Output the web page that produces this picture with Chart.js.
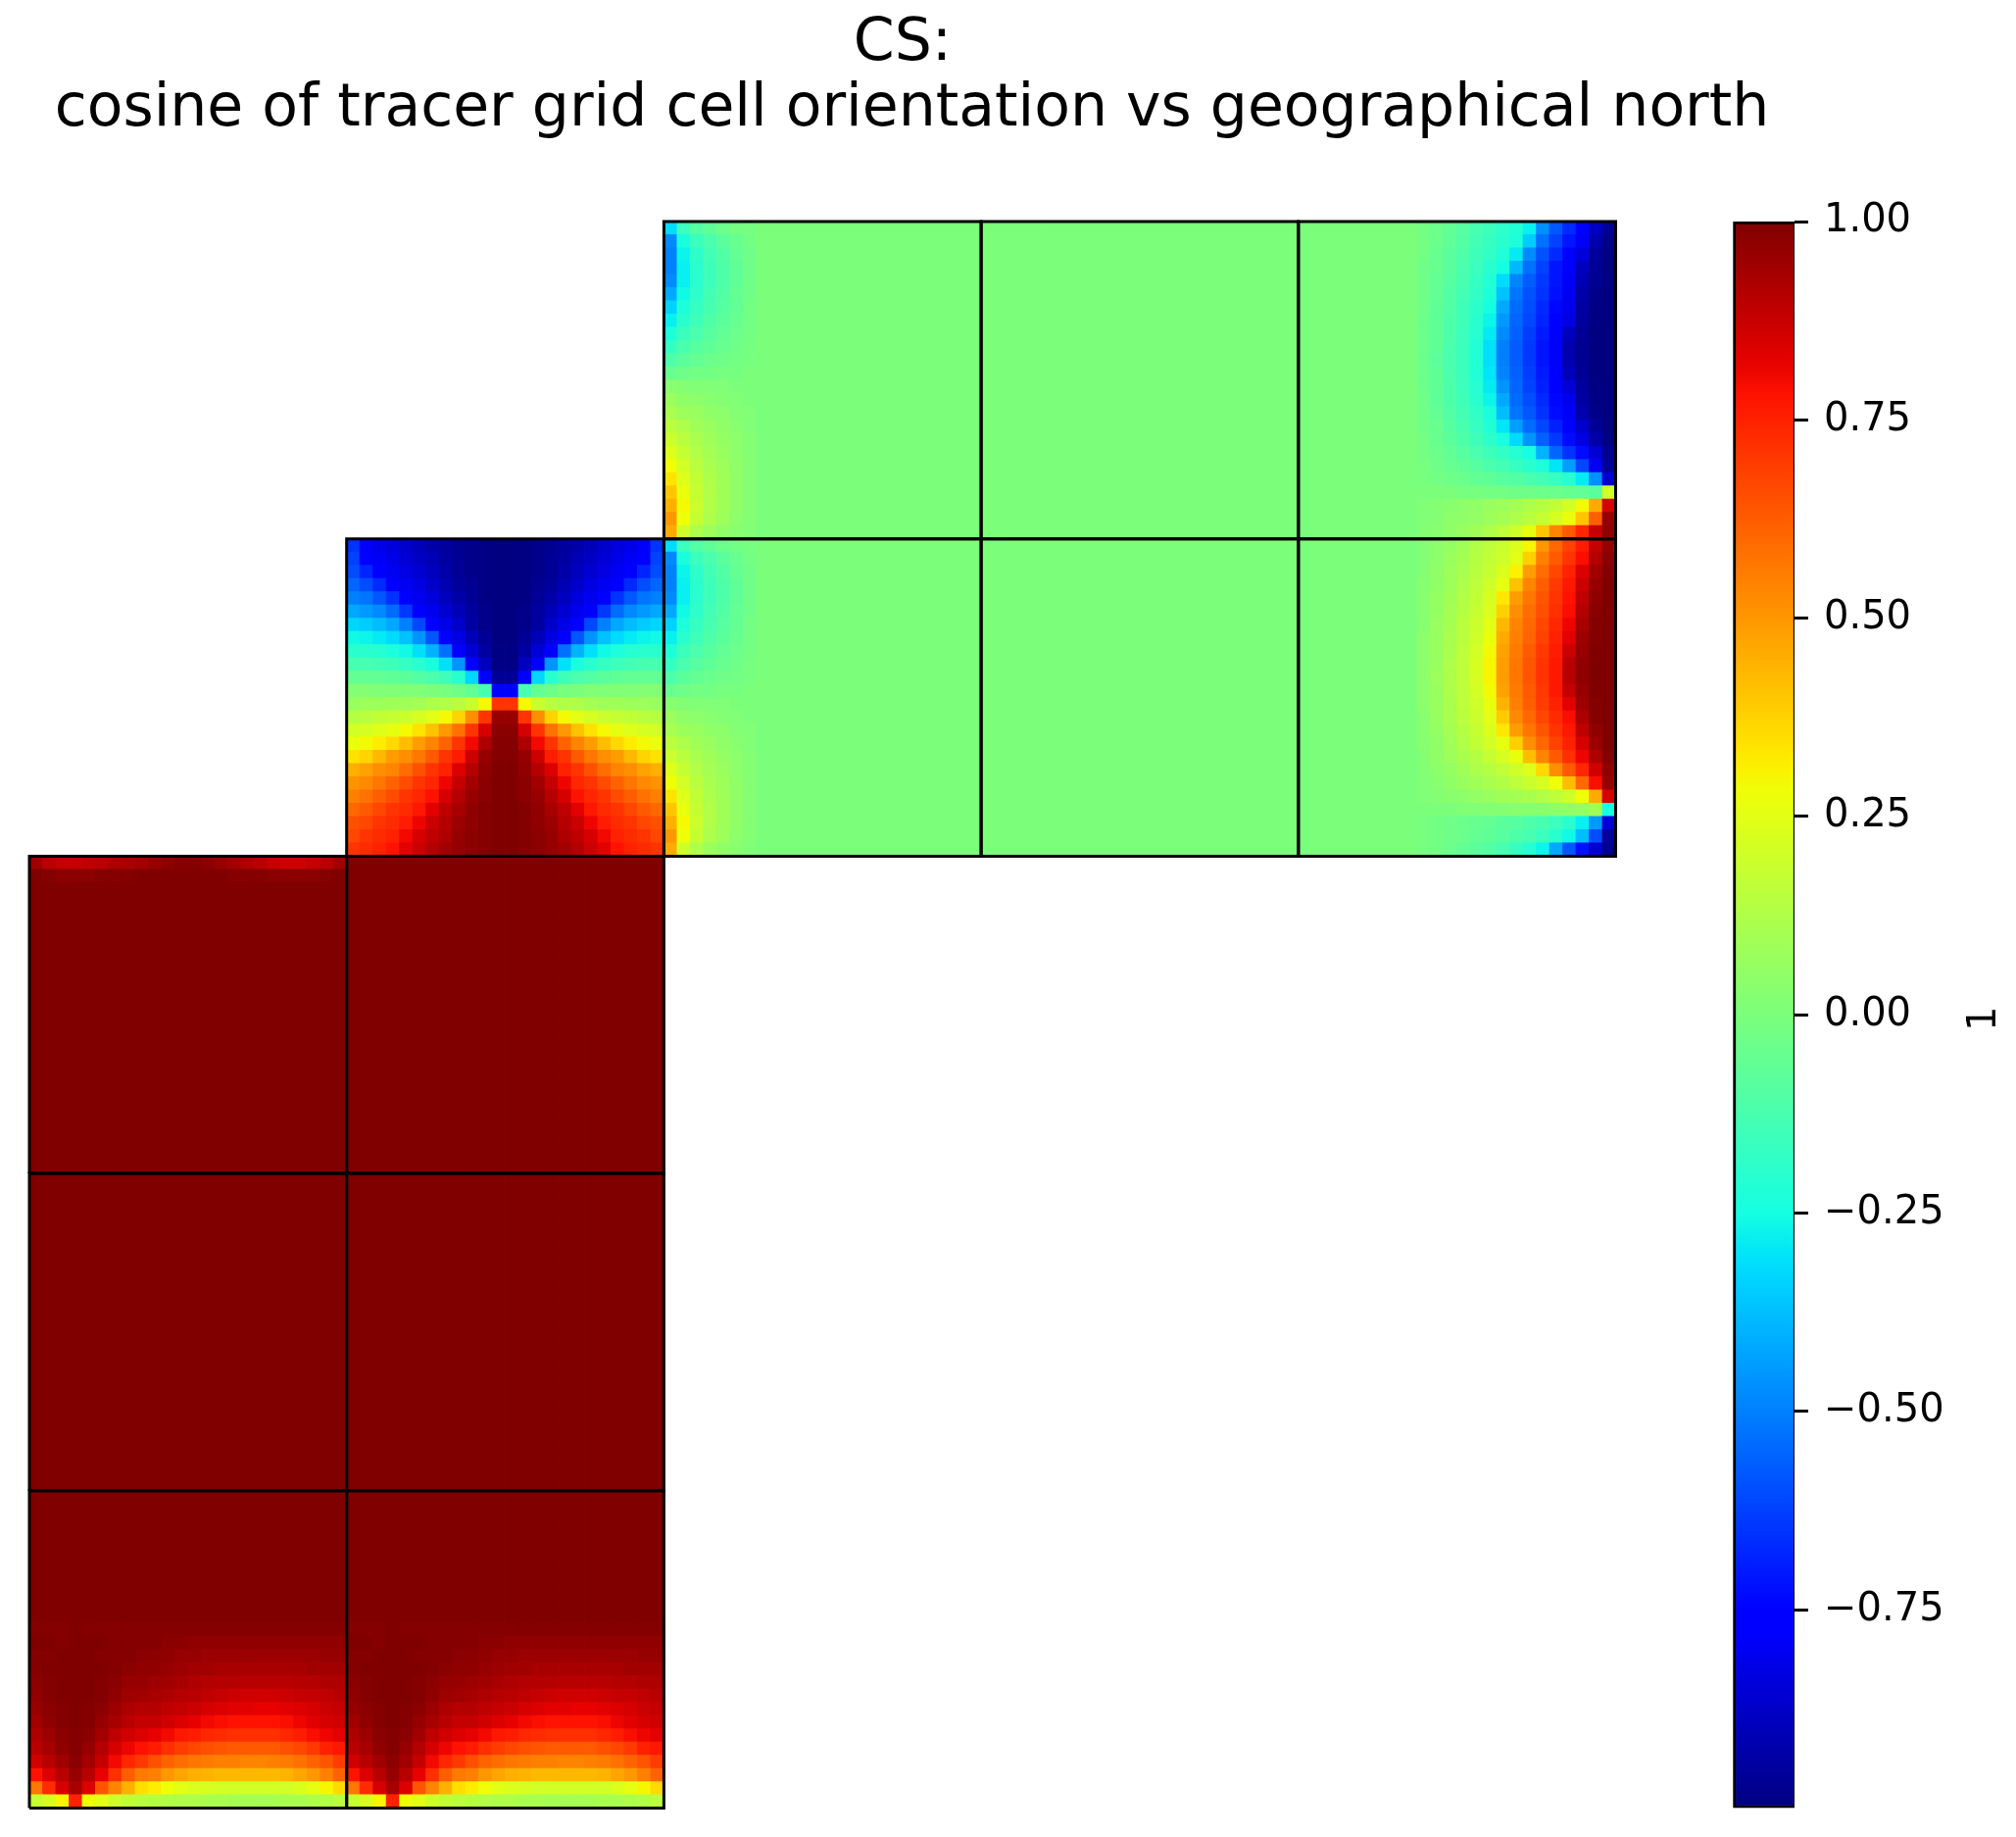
<!DOCTYPE html>
<html>
<head>
<meta charset="utf-8">
<title>CS</title>
<script src="https://cdn.jsdelivr.net/npm/chart.js@4"></script>
<style>
  html, body { margin: 0; padding: 0; background: #fff; }
  canvas { display: block; }
</style>
</head>
<body>
<canvas id="chart" width="2057" height="1874"></canvas>
<script>
const TITLE_LINES = ['CS: ', 'cosine of tracer grid cell orientation vs geographical north'];
const COLORBAR_LABEL = '1';
const CBAR_TICKS = [1, 0.75, 0.5, 0.25, 0, -0.25, -0.5, -0.75];

// each tile is 24 x 24 cells, values are hundredths of the cosine, rows run top to bottom.
// rows can be partial, whatever is missing takes the tile's flat value
const N_CELLS = 24;

const polarTile = [
  [-65,-79,-82,-84,-87,-90,-93,-95,-97,-98,-99,-100,-100,-99,-98,-97,-95,-93,-90,-87,-84,-82,-79,-65],
  [-62,-76,-79,-82,-85,-88,-91,-94,-96,-98,-99,-100,-100,-99,-98,-96,-94,-91,-88,-85,-82,-79,-76,-62],
  [-60,-68,-76,-80,-83,-86,-89,-93,-96,-98,-99,-100,-100,-99,-98,-96,-93,-89,-86,-83,-80,-76,-68,-60],
  [-55,-60,-67,-76,-80,-83,-87,-91,-95,-97,-99,-100,-100,-99,-97,-95,-91,-87,-83,-80,-76,-67,-60,-55],
  [-50,-52,-58,-65,-76,-81,-84,-89,-93,-96,-99,-100,-100,-99,-96,-93,-89,-84,-81,-76,-65,-58,-52,-50],
  [-42,-45,-48,-54,-64,-76,-81,-86,-90,-95,-98,-100,-100,-98,-95,-90,-86,-81,-76,-64,-54,-48,-45,-42],
  [-33,-35,-38,-42,-50,-61,-76,-82,-87,-94,-98,-100,-100,-98,-94,-87,-82,-76,-61,-50,-42,-38,-35,-33],
  [-26,-27,-29,-32,-37,-46,-58,-76,-83,-90,-96,-100,-100,-96,-90,-83,-76,-58,-46,-37,-32,-29,-27,-26],
  [-20,-20,-21,-23,-26,-31,-40,-53,-76,-85,-94,-99,-99,-94,-85,-76,-53,-40,-31,-26,-23,-21,-20,-20],
  [-13,-13,-14,-15,-17,-20,-24,-31,-46,-76,-89,-99,-99,-89,-76,-46,-31,-24,-20,-17,-15,-14,-13,-13],
  [-6,-6,-6,-7,-8,-10,-12,-15,-20,-33,-76,-96,-96,-76,-33,-20,-15,-12,-10,-8,-7,-6,-6,-6],
  [2,2,1,1,1,1,0,-1,-3,-6,-13,-76,-76,-13,-6,-3,-1,0,1,1,1,1,2,2],
  [7,8,8,9,9,10,12,13,15,19,29,71,71,29,19,15,13,12,10,9,9,8,8,7],
  [14,15,17,18,19,22,25,29,37,52,71,96,96,71,52,37,29,25,22,19,18,17,15,14],
  [21,22,24,26,29,34,41,50,58,71,85,98,98,85,71,58,50,41,34,29,26,24,22,21],
  [27,29,32,36,42,49,54,61,71,80,92,99,99,92,80,71,61,54,49,42,36,32,29,27],
  [34,37,43,49,52,57,63,71,76,87,96,99,99,96,87,76,71,63,57,52,49,43,37,34],
  [45,48,52,54,59,65,71,75,84,91,97,100,100,97,91,84,75,71,65,59,54,52,48,45],
  [51,53,57,61,66,71,74,81,88,94,98,100,100,98,94,88,81,74,71,66,61,57,53,51],
  [55,58,62,66,71,74,78,85,91,96,98,100,100,98,96,91,85,78,74,71,66,62,58,55],
  [60,63,67,71,73,77,83,89,93,97,99,100,100,99,97,93,89,83,77,73,71,67,63,60],
  [65,67,71,73,76,81,87,91,95,97,99,100,100,99,97,95,91,87,81,76,73,71,67,65],
  [67,71,73,75,80,85,89,92,96,98,99,100,100,99,98,96,92,89,85,80,75,73,71,67],
  [71,73,75,78,83,87,91,94,96,98,99,100,100,99,98,96,94,91,87,83,78,75,73,71]
];

// right hand tiles: only columns 9 to 23 differ from the flat green
const rightTopTile = [
  [-2,-4,-6,-9,-13,-16,-19,-22,-28,-47,-58,-67,-76,-88,-96],
  [-2,-4,-7,-10,-14,-17,-20,-23,-35,-53,-62,-71,-79,-92,-98],
  [-2,-5,-8,-11,-15,-18,-22,-29,-48,-59,-67,-75,-84,-95,-99],
  [-3,-5,-8,-12,-16,-20,-25,-39,-53,-62,-71,-77,-89,-96,-100],
  [-3,-6,-9,-13,-17,-22,-32,-49,-57,-64,-71,-79,-91,-97,-100],
  [-3,-6,-10,-14,-18,-23,-37,-52,-59,-65,-72,-80,-93,-98,-100],
  [-3,-7,-10,-15,-19,-25,-42,-54,-60,-67,-74,-81,-94,-99,-100],
  [-4,-7,-11,-15,-20,-27,-45,-55,-61,-68,-76,-83,-95,-99,-100],
  [-4,-7,-11,-16,-21,-29,-48,-56,-63,-70,-77,-89,-96,-100,-100],
  [-4,-7,-12,-16,-22,-31,-50,-57,-64,-71,-78,-92,-97,-100,-100],
  [-4,-8,-12,-16,-22,-31,-50,-57,-64,-71,-78,-92,-97,-100,-100],
  [-4,-7,-12,-16,-22,-30,-49,-56,-63,-70,-77,-90,-96,-100,-100],
  [-4,-7,-11,-16,-21,-29,-46,-55,-62,-69,-76,-85,-95,-99,-100],
  [-3,-7,-11,-15,-20,-27,-42,-54,-60,-67,-74,-81,-94,-99,-100],
  [-3,-6,-10,-14,-18,-24,-38,-52,-58,-65,-73,-79,-92,-98,-100],
  [-3,-5,-9,-13,-17,-22,-30,-44,-54,-61,-69,-77,-87,-96,-100],
  [-2,-5,-8,-11,-15,-19,-24,-32,-46,-56,-64,-73,-83,-93,-99],
  [-2,-4,-6,-9,-12,-15,-18,-21,-25,-40,-55,-65,-73,-85,-97],
  [-1,-3,-5,-7,-9,-12,-14,-17,-20,-23,-30,-44,-61,-80,-96],
  [-1,-2,-3,-4,-6,-7,-9,-10,-12,-14,-17,-21,-29,-47,-86],
  [0,0,0,-1,-1,-2,-2,-3,-3,-4,-4,-5,-6,-8,20],
  [1,2,3,4,5,7,8,10,12,14,17,21,29,46,85],
  [1,2,4,5,6,8,10,12,15,18,22,27,40,62,96],
  [2,3,5,7,9,12,16,20,26,40,54,63,74,88,97]
];

const rightMidTile = [
  [2,4,6,9,13,16,19,23,30,50,60,68,76,88,96],
  [2,4,7,10,14,17,20,25,38,55,63,71,79,91,98],
  [2,5,8,11,15,18,23,31,49,59,67,75,84,94,99],
  [3,5,8,12,16,20,26,41,54,62,70,77,87,96,100],
  [3,6,9,13,17,22,33,49,57,64,71,78,89,97,100],
  [3,6,10,14,18,23,38,52,59,65,72,79,91,98,100],
  [3,7,10,15,19,25,43,54,60,67,74,81,93,99,100],
  [4,7,11,15,20,27,46,55,61,68,75,83,95,99,100],
  [4,7,11,16,21,29,48,56,63,70,76,87,96,100,100],
  [4,7,12,16,22,30,49,57,64,71,77,90,97,100,100],
  [4,8,12,16,22,30,49,57,64,71,77,90,97,100,100],
  [4,7,12,16,21,29,48,56,63,70,77,88,96,100,100],
  [4,7,11,16,20,27,44,55,62,69,75,83,95,99,100],
  [3,7,11,15,19,25,39,53,60,67,73,79,92,99,100],
  [3,6,10,14,18,23,33,49,57,64,71,77,89,97,100],
  [3,5,9,13,17,21,26,38,52,60,68,75,85,95,100],
  [2,5,8,11,14,18,22,27,42,54,63,72,81,92,99],
  [2,4,6,9,12,14,17,20,24,36,52,63,74,86,97],
  [1,3,5,7,9,11,13,16,19,22,28,42,60,79,96],
  [1,2,3,4,6,7,9,10,11,13,16,20,28,46,85],
  [0,0,0,1,1,2,2,3,3,3,4,5,6,9,-25],
  [-1,-2,-3,-4,-5,-6,-8,-9,-11,-13,-16,-20,-28,-45,-85],
  [-1,-2,-3,-4,-6,-7,-9,-11,-13,-16,-20,-26,-38,-60,-95],
  [-1,-2,-4,-6,-8,-10,-13,-17,-21,-27,-42,-58,-72,-86,-97]
];

// only columns 0 to 6 differ from the flat green
const leftEdgeTile = [
  [-32,-16,-10,-7,-4,-2,-1],
  [-48,-24,-16,-12,-8,-5,-2],
  [-50,-27,-19,-14,-10,-6,-3],
  [-50,-28,-20,-15,-11,-7,-3],
  [-48,-28,-20,-15,-11,-7,-3],
  [-42,-26,-19,-14,-10,-6,-3],
  [-34,-23,-17,-13,-9,-6,-2],
  [-28,-20,-15,-11,-8,-5,-2],
  [-23,-16,-12,-9,-6,-4,-2],
  [-17,-12,-9,-7,-5,-3,-1],
  [-11,-8,-6,-4,-3,-2,-1],
  [-5,-3,-2,-2,-1,-1,0],
  [3,2,1,1,1,0,0],
  [7,5,4,3,2,1,0],
  [11,8,7,5,4,2,1],
  [15,12,9,7,5,3,1],
  [19,15,11,9,6,4,2],
  [24,18,13,10,7,4,2],
  [28,21,15,11,8,5,2],
  [34,24,17,12,9,5,2],
  [40,27,18,13,9,5,2],
  [45,29,19,13,9,5,2],
  [50,28,18,12,8,4,2],
  [46,20,12,8,5,3,1]
];

// only rows 10 to 23 differ from the flat dark red
const bottomTile = [
  [99,99,99,100,99,99,99,99,99,99,99,99,99,99,99,99,99,99,99,99,99,99,99,99],
  [100,100,99,100,100,100,99,99,99,99,98,98,97,97,97,97,97,97,97,97,97,97,97,97],
  [99,99,100,100,100,99,99,99,98,98,97,96,96,95,95,95,95,95,95,95,95,95,96,96],
  [99,100,100,100,100,100,99,98,97,97,96,95,94,94,93,93,93,93,93,93,93,94,94,94],
  [98,99,100,100,100,99,98,96,96,95,94,93,92,91,91,91,90,90,90,90,91,91,92,92],
  [97,99,100,100,100,99,97,95,94,93,92,91,90,89,88,87,86,86,86,87,88,88,89,90],
  [96,98,99,100,99,98,95,92,91,91,89,88,87,85,84,83,83,82,82,83,84,85,87,88],
  [94,97,99,100,99,96,93,90,88,88,86,84,82,80,79,78,78,78,78,79,81,83,85,86],
  [92,95,98,99,98,94,89,86,84,82,80,77,76,74,73,72,72,72,72,74,76,79,81,83],
  [90,93,97,99,96,91,85,81,78,76,72,69,67,65,64,63,63,63,63,65,67,70,75,77],
  [86,90,94,98,94,88,80,74,70,65,61,59,57,56,55,55,54,54,55,56,58,61,64,69],
  [78,84,90,96,90,82,72,62,56,55,50,47,45,44,43,43,43,43,43,44,47,50,55,61],
  [57,73,85,93,84,64,54,45,35,32,28,25,23,22,21,21,21,21,21,21,23,26,30,36],
  [18,22,30,75,28,25,20,17,15,14,13,12,12,11,11,10,10,10,10,11,11,12,13,15]
];

// faint band along the top of the tile under the polar one
const redTopTile = [
  [95,90,88,88,89,90,92,93,94,96,98,99,99,98,96,94,92,90,88,87,87,88,90,94],
  [100,99,98,98,98,99,99,99,100,100,100,100,100,100,100,99,99,99,98,98,98,98,99,100]
];

const flatTile = [];

// where the 13 tiles sit, in tile units, and what fills them
const tileCols = [0, 1, 0, 1, 0, 1, 1, 2, 3, 4, 2, 3, 4];
const tileRows = [0, 0, 1, 1, 2, 2, 3, 3, 3, 3, 4, 4, 4];
const tileGrids = [bottomTile, bottomTile, flatTile, flatTile, redTopTile, flatTile, polarTile,
  leftEdgeTile, flatTile, rightMidTile, leftEdgeTile, flatTile, rightTopTile];
const tileFlat = [100, 100, 100, 100, 100, 100, 0, 0, 0, 0, 0, 0, 0];
const tileFirstCol = [0, 0, 0, 0, 0, 0, 0, 0, 0, 9, 0, 0, 9];
const tileFirstRow = [10, 10, 0, 0, 0, 0, 0, 0, 0, 0, 0, 0, 0];

// matplotlib jet
const JET_R = [[0, 0], [0.35, 0], [0.66, 1], [0.89, 1], [1, 0.5]];
const JET_G = [[0, 0], [0.125, 0], [0.375, 1], [0.64, 1], [0.91, 0], [1, 0]];
const JET_B = [[0, 0.5], [0.11, 1], [0.34, 1], [0.65, 0], [1, 0]];

function channel(stops, t) {
  for (let i = 1; i < stops.length; i++) {
    if (t <= stops[i][0]) {
      const f = (t - stops[i - 1][0]) / (stops[i][0] - stops[i - 1][0]);
      return stops[i - 1][1] + f * (stops[i][1] - stops[i - 1][1]);
    }
  }
  return stops[stops.length - 1][1];
}

function jet(v) {
  const t = Math.min(1, Math.max(0, (v + 1) / 2));
  const c = [JET_R, JET_G, JET_B].map(s => Math.round(channel(s, t) * 255));
  return `rgb(${c[0]},${c[1]},${c[2]})`;
}

function cellValue(tile, i, j) {
  const row = tileGrids[tile][i - tileFirstRow[tile]];
  if (!row) return tileFlat[tile];
  const v = row[j - tileFirstCol[tile]];
  return v === undefined ? tileFlat[tile] : v;
}

const cellPoints = [];
const cellColors = [];
tileCols.forEach((col, t) => {
  for (let i = 0; i < N_CELLS; i++) {
    for (let j = 0; j < N_CELLS; j++) {
      cellPoints.push({ x: col + (j + 0.5) / N_CELLS, y: tileRows[t] + 1 - (i + 0.5) / N_CELLS });
      cellColors.push(jet(cellValue(t, i, j) / 100));
    }
  }
});

const outlines = tileCols.map((col, t) => {
  const row = tileRows[t];
  return {
    type: 'scatter',
    showLine: true,
    data: [{ x: col, y: row }, { x: col + 1, y: row }, { x: col + 1, y: row + 1 }, { x: col, y: row + 1 }, { x: col, y: row }],
    borderColor: '#000',
    borderWidth: 3,
    pointRadius: 0,
    clip: false,
    order: 1
  };
});

const TILE_PX = 323.7;
const cellRadius = (TILE_PX / N_CELLS + 0.8) / Math.SQRT2;

function cbarGradient(ctx) {
  const chart = ctx.chart;
  if (!chart.chartArea) return '#000';
  const g = chart.ctx.createLinearGradient(0, chart.chartArea.bottom, 0, chart.chartArea.top);
  for (let k = 0; k <= 64; k++) g.addColorStop(k / 64, jet(k / 32 - 1));
  return g;
}

const colorbarLabel = {
  id: 'colorbarLabel',
  afterDraw(chart) {
    const c = chart.ctx;
    const s = chart.scales.cbar;
    c.save();
    c.translate(2026, s.getPixelForValue(0) + 4);
    c.rotate(-Math.PI / 2);
    c.font = '40px "DejaVu Sans"';
    c.fillStyle = '#000';
    c.textAlign = 'center';
    c.textBaseline = 'middle';
    c.fillText(COLORBAR_LABEL, 0, 0);
    c.restore();
  }
};

new Chart(document.getElementById('chart'), {
  type: 'scatter',
  data: {
    datasets: [
      {
        data: cellPoints,
        pointStyle: 'rect',
        pointRadius: cellRadius,
        pointBorderWidth: 0,
        pointBackgroundColor: cellColors,
        order: 2
      },
      ...outlines,
      {
        type: 'bar',
        data: [{ x: (1800.5 - 30) / TILE_PX, y: [-1, 1] }],
        yAxisID: 'cbar',
        barThickness: 64,
        backgroundColor: cbarGradient,
        borderColor: '#000',
        borderWidth: 3,
        borderSkipped: false,
        order: 3
      }
    ]
  },
  options: {
    responsive: false,
    devicePixelRatio: 1,
    animation: false,
    events: [],
    layout: { padding: { left: 30, right: 0, top: 0, bottom: 29.5 } },
    plugins: {
      legend: { display: false },
      tooltip: { enabled: false },
      title: {
        display: true,
        fullSize: false,
        text: TITLE_LINES,
        color: '#000',
        font: { family: '"DejaVu Sans"', size: 60, weight: 'normal', lineHeight: 1.12 },
        padding: { top: 12, bottom: 79.6 }
      }
    },
    scales: {
      x: { type: 'linear', display: false, offset: false, min: 0, max: (1831 - 30) / TILE_PX, grid: { display: false } },
      y: { type: 'linear', display: false, min: 0, max: 5, grid: { display: false } },
      cbar: {
        type: 'linear',
        position: 'right',
        min: -1,
        max: 1,
        beginAtZero: false,
        afterFit(scale) {
          scale.width = 2057 - 1831;
          scale.paddingTop = 0;
          scale.paddingBottom = 0;
        },
        afterBuildTicks(scale) { scale.ticks = CBAR_TICKS.map(value => ({ value })); },
        border: { display: false },
        grid: { drawOnChartArea: false, drawTicks: true, tickLength: 14, tickWidth: 3, tickColor: '#000' },
        ticks: {
          color: '#000',
          padding: 16,
          font: { family: '"DejaVu Sans"', size: 40 },
          autoSkip: false,
          maxRotation: 0,
          callback: v => (v < 0 ? '\u2212' : '') + Math.abs(v).toFixed(2)
        }
      }
    }
  },
  plugins: [colorbarLabel]
});
</script>
</body>
</html>
